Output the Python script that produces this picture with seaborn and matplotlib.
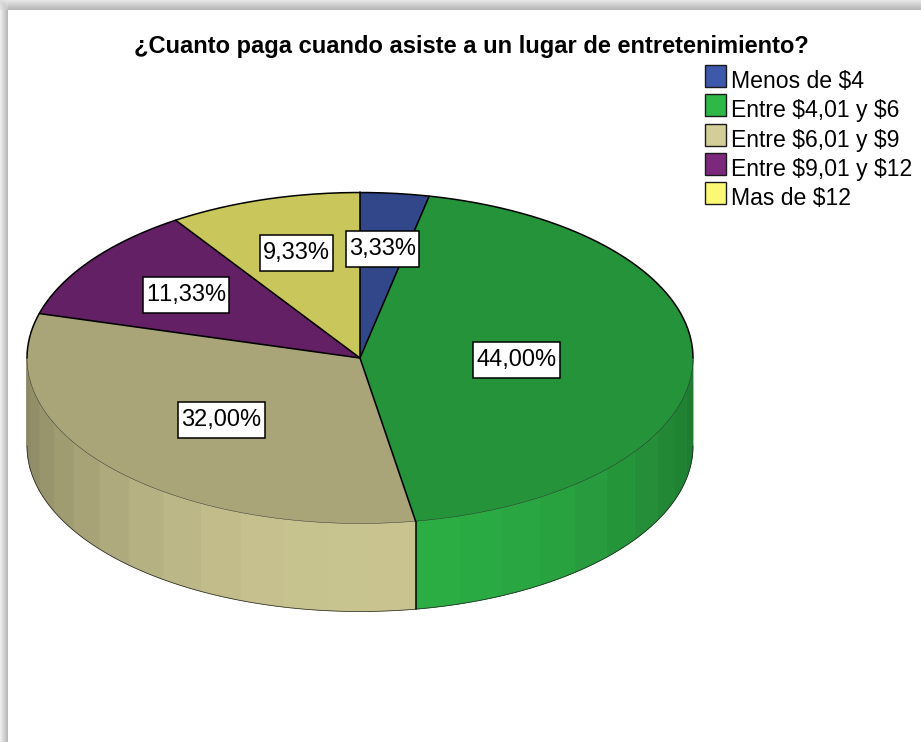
import numpy as np
import matplotlib
matplotlib.use("Agg")
import matplotlib.pyplot as plt
from matplotlib.patches import Patch, Rectangle
import seaborn as sns

# ---- data ----
TITLE = "¿Cuanto paga cuando asiste a un lugar de entretenimiento?"
categories = ["Menos de \\$4", "Entre \\$4,01 y \\$6", "Entre \\$6,01 y \\$9", "Entre \\$9,01 y \\$12", "Mas de \\$12"]
percentages = [3.33, 44.00, 32.00, 11.33, 9.33]
pct_labels = ["3,33%", "44,00%", "32,00%", "11,33%", "9,33%"]
base_hex = ["#3e58ac", "#2eb848", "#d3ce97", "#7c287d", "#fbf873"]

# ---- layout (pixels of the 921x742 canvas) ----
W, H = 921, 742
CX, CY, RX, RY, DEPTH = 360.0, 358.0, 333.0, 165.5, 88.0
LABEL_R = [0.66, 0.47, 0.56, 0.645, 0.66]
FONT = "Liberation Sans"

sns.set_theme(style="white")
plt.rcParams["font.family"] = [FONT, "DejaVu Sans"]
plt.rcParams["text.kerning_factor"] = 6
palette = sns.color_palette(base_hex)

fig = plt.figure(figsize=(W / 100, H / 100), dpi=100, facecolor="white")
bg = fig.add_axes([0, 0, 1, 1])
bg.set_axis_off()

# window shadow along the top and left edges
yy, xx = np.mgrid[0:H, 0:W]
top = np.where(yy < 10, 0.90 - 0.19 * (yy / 9.0), 1.0)
left = np.where(xx < 8, 0.93 - 0.21 * (xx / 7.0), 1.0)
shadow = np.minimum(top, left)
corner = (yy < 10) & (xx < 8)
shadow[corner] = (0.93 - 0.03 * (9 - yy[corner]) / 9 - 0.04 * (7 - xx[corner]) / 7
                  - 0.16 * np.minimum(yy[corner] / 9.0, xx[corner] / 7.0))
bg.imshow(shadow, cmap="gray", vmin=0, vmax=1, extent=(0, W, H, 0),
          interpolation="nearest", aspect="auto", zorder=0)
bg.set_xlim(0, W)
bg.set_ylim(H, 0)


def rim(theta_deg, drop=0.0):
    t = np.radians(theta_deg)
    return CX + RX * np.sin(t), CY - RY * np.cos(t) + drop


# side wall: slices in the front half, shaded in facets
edges = np.concatenate([[0.0], np.cumsum(percentages)]) * 3.6
front_split = edges[2]
STEP = 7.65
facet_edges = np.concatenate([
    np.arange(front_split, 90.0, -STEP)[::-1],
    np.arange(front_split + STEP, 270.0, STEP),
])
facet_edges = np.unique(np.concatenate([[90.0, 270.0], facet_edges]))
for a0, a1 in zip(facet_edges[:-1], facet_edges[1:]):
    mid = 0.5 * (a0 + a1)
    idx = int(np.searchsorted(edges, mid) - 1)
    shade = 0.66 + 0.29 * abs(np.cos(np.radians(mid))) ** 1.4
    colour = tuple(c * shade for c in palette[idx])
    th = np.linspace(a0, a1, 16)
    x_t, y_t = rim(th)
    x_b, y_b = rim(th, DEPTH)
    bg.fill(np.r_[x_t, x_b[::-1]], np.r_[y_t, y_b[::-1]],
            facecolor=colour, edgecolor=colour, linewidth=0.6, zorder=2)

# bottom rim, silhouette, and the one visible vertical seam
th = np.linspace(90, 270, 240)
bg.plot(*rim(th, DEPTH), color="#222222", lw=0.5, zorder=3)
xs, ys = rim(front_split)
bg.plot([xs, xs], [ys, ys + DEPTH], color="black", lw=1.1, zorder=3)

# top surface: a pie stretched into the ellipse by its axes box
pie_ax = fig.add_axes([(CX - RX) / W, 1 - (CY + RY) / H, 2 * RX / W, 2 * RY / H])
top_colours = [tuple(c * 0.8 for c in col) for col in palette]
wedges, _ = pie_ax.pie(percentages, colors=top_colours, startangle=90, counterclock=False,
                       radius=1.0, wedgeprops={"linewidth": 0, "edgecolor": "none"})
pie_ax.set_aspect("auto")
pie_ax.set_xlim(-1, 1)
pie_ax.set_ylim(-1, 1)
pie_ax.patch.set_alpha(0)
pie_ax.set_axis_off()

# rim and radial lines
t = np.linspace(-90, 90, 300)
pie_ax.plot(np.sin(np.radians(t)), np.cos(np.radians(t)), color="black", lw=1.1,
            clip_on=False, zorder=4)
t = np.linspace(90, 270, 300)
pie_ax.plot(np.sin(np.radians(t)), np.cos(np.radians(t)), color="#222222", lw=0.3,
            clip_on=False, zorder=4)
for e in edges[:-1]:
    r = np.radians(e)
    pie_ax.plot([0, np.sin(r)], [0, np.cos(r)], color="black", lw=1.15, zorder=5,
                solid_capstyle="round", clip_on=False)

# percentage labels: white boxes sized from the measured text
mids = 0.5 * (edges[:-1] + edges[1:])
renderer = fig.canvas.get_renderer()
to_data = pie_ax.transData.inverted()
for m, lab, fr in zip(mids, pct_labels, LABEL_R):
    r = np.radians(m)
    txt = pie_ax.text(fr * np.sin(r), fr * np.cos(r), lab, ha="center", va="center",
                      fontsize=17.0, color="black", zorder=8, family=FONT)
    ext = txt.get_window_extent(renderer)
    mid_y = 0.5 * (ext.y0 + ext.y1)
    (bx0, by0) = to_data.transform((ext.x0 - 3.0, mid_y - 18))
    (bx1, by1) = to_data.transform((ext.x1 + 3.0, mid_y + 18))
    pie_ax.add_patch(Rectangle((bx0, by0), bx1 - bx0, by1 - by0, facecolor="white",
                               edgecolor="black", linewidth=1.1, zorder=7, clip_on=False))

# title
fig.text(471 / W, 1 - 46 / H, TITLE, ha="center", va="center", fontsize=17.0,
         fontweight="bold", color="black", family=FONT)

# legend
handles = [Patch(facecolor=c, edgecolor="#1a1a1a", linewidth=1.0) for c in palette]
leg = bg.legend(handles, categories, loc="upper left",
                bbox_to_anchor=(704.5 / W, 1 - 69 / H), bbox_transform=fig.transFigure,
                frameon=False, fontsize=16.6, labelcolor="black", handlelength=0.95,
                handleheight=1.1, handletextpad=0.22, labelspacing=0.235, borderpad=0,
                borderaxespad=0)
# swatches sit a few pixels above the text line
for swatch in leg.get_patches():
    swatch.set_y(swatch.get_y() + 2.9)

fig.savefig("out.png", dpi=100, facecolor="white")
